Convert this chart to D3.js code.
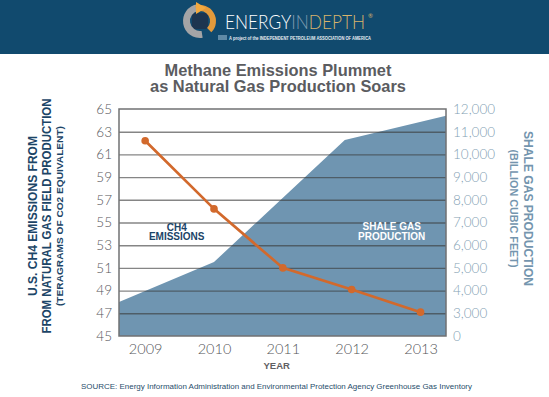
<!DOCTYPE html>
<html>

<head>
  <meta charset="utf-8">
  <style>
    body { margin: 0; background: #fff; }
    svg { display: block; }
  </style>
</head>

<body>
  <script src="https://d3js.org/d3.v7.min.js"></script>
  <script>
    // data
    var years = [2009, 2010, 2011, 2012, 2013];
    var ch4Values = [62.2, 56.2, 51.0, 49.1, 47.1];

    // shale gas area vertices (the shape runs edge to edge of the plot)
    var shaleYears = [2008.62, 2010, 2011.9, 2013.37];
    var shaleValues = [3500, 5260, 10630, 11700];

    var leftTicks = [45, 47, 49, 51, 53, 55, 57, 59, 61, 63, 65];
    var rightTicks = [0, 3000, 4000, 5000, 6000, 7000, 8000, 9000, 10000, 11000, 12000];

    var W = 549, H = 397;
    var margin = { top: 109, left: 119 },
      width = 327,
      height = 227;

    var svg = d3.select("body").append("svg")
      .attr("width", W)
      .attr("height", H);

    // header band
    svg.append("rect")
      .attr("width", W)
      .attr("height", 54)
      .attr("fill", "#114a6e");

    // little logo mark
    var logo = svg.append("g").attr("transform", "translate(200,21)");
    logo.append("rect")
      .attr("x", -8).attr("y", -8).attr("width", 16).attr("height", 16)
      .attr("rx", 3)
      .attr("fill", "#1d3550");
    logo.append("path")
      .attr("d", d3.arc().innerRadius(10).outerRadius(17).startAngle(Math.PI * 0.95).endAngle(Math.PI * 1.95)())
      .attr("fill", "#a4a4a6");
    logo.append("path")
      .attr("d", d3.arc().innerRadius(10).outerRadius(16).startAngle(-Math.PI * 0.1).endAngle(Math.PI * 0.75)())
      .attr("fill", "#e39a3b");
    logo.append("path")
      .attr("d", "M-4,-19 L6,-13 L-4,-7 Z")
      .attr("fill", "#f2a93f");

    var brand = svg.append("text")
      .attr("x", 225)
      .attr("y", 29)
      .attr("textLength", 140)
      .attr("lengthAdjust", "spacingAndGlyphs")
      .style("font-family", "Lato, 'Open Sans', sans-serif")
      .style("font-weight", 300)
      .style("font-size", "19.5px");
    brand.append("tspan").attr("fill", "#ffffff").text("ENERGY");
    brand.append("tspan").attr("fill", "#7f9bb0").text("IN");
    brand.append("tspan").attr("fill", "#d8b46c").text("DEPTH");
    svg.append("text")
      .attr("x", 368)
      .attr("y", 18)
      .attr("fill", "#d8b46c")
      .style("font-family", "Lato, sans-serif")
      .style("font-size", "6px")
      .text("®");

    svg.append("rect")
      .attr("x", 218).attr("y", 35).attr("width", 9).attr("height", 5)
      .attr("fill", "#5f8aa6");
    svg.append("text")
      .attr("x", 229)
      .attr("y", 40)
      .attr("textLength", 142)
      .attr("lengthAdjust", "spacingAndGlyphs")
      .attr("fill", "#e8eef2")
      .style("font-family", "'Liberation Sans', Arial, sans-serif")
      .style("font-weight", "bold")
      .style("font-size", "4.5px")
      .text("A project of the INDEPENDENT PETROLEUM  ASSOCIATION OF AMERICA");

    // title
    var title = svg.append("text")
      .attr("text-anchor", "middle")
      .attr("fill", "#5b5c5f")
      .style("font-family", "'Liberation Sans', Arial, sans-serif")
      .style("font-weight", "bold")
      .style("font-size", "16.4px");
    title.append("tspan").attr("x", 278).attr("y", 76).text("Methane Emissions Plummet");
    title.append("tspan").attr("x", 278).attr("y", 91.7).text("as Natural Gas Production Soars");

    var g = svg.append("g")
      .attr("transform", "translate(" + margin.left + "," + margin.top + ")");

    var x = d3.scaleLinear()
      .domain([2008.62, 2013.37])
      .range([0, width]);

    var yLeft = d3.scaleLinear()
      .domain([45, 65])
      .range([height, 0]);

    // right axis is broken: 0 sits on the floor, 3,000 on the first gridline
    var yRight = d3.scaleLinear()
      .domain([0, 3000, 12000])
      .range([height, yLeft(47), 0]);

    // shale gas area
    var area = d3.area()
      .x(function(d) { return x(d.year); })
      .y0(height)
      .y1(function(d) { return yRight(d.value); });

    var shale = shaleYears.map(function(yr, i) {
      return { year: yr, value: shaleValues[i] };
    });

    g.append("path")
      .datum(shale)
      .attr("d", area)
      .attr("fill", "#6f95b1");

    // gridlines
    g.append("g")
      .attr("class", "grid")
      .call(d3.axisLeft(yLeft)
        .tickValues(leftTicks.slice(1, -1))
        .tickSize(-width)
        .tickFormat(""))
      .call(function(s) { s.select(".domain").remove(); })
      .selectAll("line")
      .attr("stroke", "#3a3a3a")
      .attr("stroke-opacity", 0.62)
      .attr("stroke-width", 1.4);

    // frame
    g.append("rect")
      .attr("width", width)
      .attr("height", height)
      .attr("fill", "none")
      .attr("stroke", "#707173")
      .attr("stroke-width", 1.5);

    // left axis
    var leftAxis = g.append("g")
      .call(d3.axisLeft(yLeft).tickValues(leftTicks).tickSize(0).tickPadding(7));
    leftAxis.select(".domain").remove();
    leftAxis.selectAll("text")
      .attr("fill", "#55565a")
      .style("font-family", "Lato, 'Open Sans', sans-serif")
      .style("font-weight", 300)
      .style("font-size", "13.5px");

    // right axis
    var rightAxis = g.append("g")
      .attr("transform", "translate(" + width + ",0)")
      .call(d3.axisRight(yRight).tickValues(rightTicks).tickFormat(d3.format(",")).tickSize(0).tickPadding(7));
    rightAxis.select(".domain").remove();
    rightAxis.selectAll("text")
      .attr("fill", "#849fb4")
      .style("font-family", "Lato, 'Open Sans', sans-serif")
      .style("font-weight", 300)
      .style("font-size", "13.5px");

    // bottom axis
    var bottomAxis = g.append("g")
      .attr("transform", "translate(0," + height + ")")
      .call(d3.axisBottom(x).tickValues(years).tickFormat(d3.format("d")).tickSize(0).tickPadding(8));
    bottomAxis.select(".domain").remove();
    bottomAxis.selectAll("text")
      .attr("fill", "#55565a")
      .style("font-family", "Lato, 'Open Sans', sans-serif")
      .style("font-weight", 300)
      .style("font-size", "14.5px");

    // CH4 line
    var line = d3.line()
      .x(function(d, i) { return x(years[i]); })
      .y(function(d) { return yLeft(d); });

    g.append("path")
      .datum(ch4Values)
      .attr("d", line)
      .attr("fill", "none")
      .attr("stroke", "#d2692c")
      .attr("stroke-width", 2.7);

    g.selectAll(".dot")
      .data(ch4Values)
      .enter().append("circle")
      .attr("class", "dot")
      .attr("cx", function(d, i) { return x(years[i]); })
      .attr("cy", function(d) { return yLeft(d); })
      .attr("r", 3.8)
      .attr("fill", "#d2692c");

    // in-plot labels
    var ch4Label = g.append("text")
      .attr("text-anchor", "middle")
      .attr("fill", "#1b4467")
      .style("font-family", "'Liberation Sans', Arial, sans-serif")
      .style("font-weight", "bold")
      .style("font-size", "10px");
    ch4Label.append("tspan").attr("x", 57.7).attr("y", 121.7).text("CH4");
    ch4Label.append("tspan").attr("x", 57.7).attr("y", 131.3).text("EMISSIONS");

    var shaleLabel = g.append("text")
      .attr("text-anchor", "middle")
      .attr("fill", "#ffffff")
      .style("font-family", "'Liberation Sans', Arial, sans-serif")
      .style("font-weight", "bold")
      .style("font-size", "10px");
    shaleLabel.append("tspan").attr("x", 272.7).attr("y", 121).text("SHALE GAS");
    shaleLabel.append("tspan").attr("x", 272.7).attr("y", 131.3).text("PRODUCTION");

    // axis titles
    var lt = svg.append("g")
      .attr("fill", "#1c4567")
      .style("font-family", "'Liberation Sans', Arial, sans-serif")
      .style("font-weight", "bold");
    [["U.S. CH4  EMISSIONS FROM", 36.7, 160, 12.5],
     ["FROM NATURAL GAS FIELD PRODUCTION", 50.7, 235, 13],
     ["(TERAGRAMS OF CO2 EQUIVALENT)", 63.3, 180, 9.8]].forEach(function(r) {
      lt.append("text")
        .attr("transform", "translate(" + r[1] + ",216) rotate(-90)")
        .attr("text-anchor", "middle")
        .attr("textLength", r[2])
        .attr("lengthAdjust", "spacingAndGlyphs")
        .style("font-size", r[3] + "px")
        .text(r[0]);
    });

    var rt = svg.append("g")
      .attr("fill", "#7495ae")
      .style("font-family", "'Liberation Sans', Arial, sans-serif")
      .style("font-weight", "bold");
    [["SHALE GAS PRODUCTION", 524, 155, 13],
     ["(BILLION CUBIC FEET)", 509.5, 118, 11]].forEach(function(r) {
      rt.append("text")
        .attr("transform", "translate(" + r[1] + ",208.5) rotate(90)")
        .attr("text-anchor", "middle")
        .attr("textLength", r[2])
        .attr("lengthAdjust", "spacingAndGlyphs")
        .style("font-size", r[3] + "px")
        .text(r[0]);
    });

    svg.append("text")
      .attr("x", 276.7)
      .attr("y", 369.3)
      .attr("text-anchor", "middle")
      .attr("fill", "#5f6063")
      .style("font-family", "'Liberation Sans', Arial, sans-serif")
      .style("font-weight", "bold")
      .style("font-size", "9.5px")
      .text("YEAR");

    svg.append("text")
      .attr("x", 276.5)
      .attr("y", 389)
      .attr("text-anchor", "middle")
      .attr("textLength", 391)
      .attr("lengthAdjust", "spacingAndGlyphs")
      .attr("fill", "#1f4d6b")
      .style("font-family", "'Liberation Sans', Arial, sans-serif")
      .style("font-size", "7px")
      .text("SOURCE: Energy Information Administration and Environmental Protection Agency Greenhouse Gas Inventory");
  </script>
</body>

</html>
